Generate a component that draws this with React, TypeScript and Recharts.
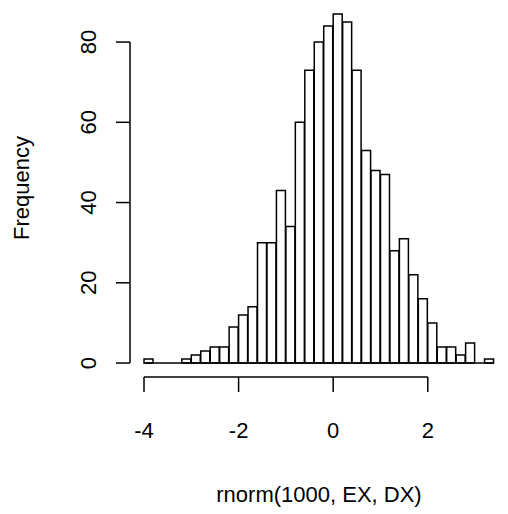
import React from "react";
import {
  ComposedChart,
  Bar,
  XAxis,
  YAxis,
  ReferenceLine,
  Label
} from "recharts";

// histogram breaks (left edges of 0.2-wide bins) and counts
const binStart = [
  -4.0, -3.8, -3.6, -3.4, -3.2, -3.0, -2.8, -2.6, -2.4, -2.2, -2.0, -1.8, -1.6,
  -1.4, -1.2, -1.0, -0.8, -0.6, -0.4, -0.2, 0.0, 0.2, 0.4, 0.6, 0.8, 1.0, 1.2,
  1.4, 1.6, 1.8, 2.0, 2.2, 2.4, 2.6, 2.8, 3.0, 3.2
];
const counts = [
  1, 0, 0, 0, 1, 2, 3, 4, 4, 9, 12, 14, 30, 30, 43, 34, 60, 73, 80, 84, 87, 85,
  73, 53, 48, 47, 28, 31, 22, 16, 10, 4, 4, 2, 5, 0, 1
];
const binWidth = 0.2;
const xTicks = [-4, -2, 0, 2];
const yTicks = [0, 20, 40, 60, 80];

const data = binStart.map((s, i) => ({ mid: s + binWidth / 2, count: counts[i] }));

const FONT = "'Liberation Sans', Arial, Helvetica, sans-serif";
const xMin = binStart[0];
const xMax = binStart[binStart.length - 1] + binWidth;
const xPad = (xMax - xMin) * 0.04;
const yMaxVal = Math.max(...counts);
const yPad = yMaxVal * 0.04;

const XTick = (props: any) => (
  <text x={props.x} y={props.y + 45.5} textAnchor="middle" fontFamily={FONT} fontSize={22} fill="#000">
    {props.payload.value}
  </text>
);

const YTick = (props: any) => {
  const bx = 96.5;
  return (
    <text
      x={bx}
      y={props.y}
      transform={`rotate(-90 ${bx} ${props.y})`}
      textAnchor="middle"
      fontFamily={FONT}
      fontSize={22}
      fill="#000"
    >
      {props.payload.value}
    </text>
  );
};

export default function App() {
  return (
    <div style={{ position: "absolute", left: 0, top: 0, background: "#fff" }}>
      <ComposedChart
        width={508}
        height={514}
        data={data}
        margin={{ top: 0, right: 0, bottom: 0, left: 0 }}
        barCategoryGap={0}
        barGap={0}
      >
        <XAxis
          dataKey="mid"
          type="number"
          domain={[xMin - xPad, xMax + xPad]}
          allowDataOverflow
          ticks={xTicks}
          interval={0}
          height={137}
          axisLine={false}
          tickSize={15}
          tickMargin={0}
          tickLine={{ stroke: "#000", strokeWidth: 1.5 }}
          tick={<XTick />}
        >
          <Label
            content={() => (
              <text x={319} y={501.5} textAnchor="middle" fontFamily={FONT} fontSize={22} fill="#000">
                rnorm(1000, EX, DX)
              </text>
            )}
          />
        </XAxis>
        <YAxis
          type="number"
          domain={[-yPad, yMaxVal + yPad]}
          allowDataOverflow
          ticks={yTicks}
          interval={0}
          width={130}
          axisLine={false}
          tickSize={14}
          tickMargin={0}
          tickLine={{ stroke: "#000", strokeWidth: 1.5 }}
          tick={<YTick />}
        >
          <Label
            content={() => (
              <text
                x={28.5}
                y={188}
                transform="rotate(-90 28.5 188)"
                textAnchor="middle"
                fontFamily={FONT}
                fontSize={22}
                fill="#000"
              >
                Frequency
              </text>
            )}
          />
        </YAxis>
        <ReferenceLine
          segment={[{ x: xTicks[0], y: -yPad }, { x: xTicks[xTicks.length - 1], y: -yPad }]}
          stroke="#000"
          strokeWidth={1.5}
          ifOverflow="visible"
        />
        <ReferenceLine
          segment={[{ x: xMin - xPad, y: yTicks[0] }, { x: xMin - xPad, y: yTicks[yTicks.length - 1] }]}
          stroke="#000"
          strokeWidth={1.5}
          ifOverflow="visible"
        />
        <ReferenceLine
          segment={[{ x: xMin, y: 0 }, { x: xMax, y: 0 }]}
          stroke="#000"
          strokeWidth={1.5}
          ifOverflow="visible"
        />
        <Bar dataKey="count" fill="#fff" stroke="#000" strokeWidth={1.5} isAnimationActive={false} />
      </ComposedChart>
    </div>
  );
}
